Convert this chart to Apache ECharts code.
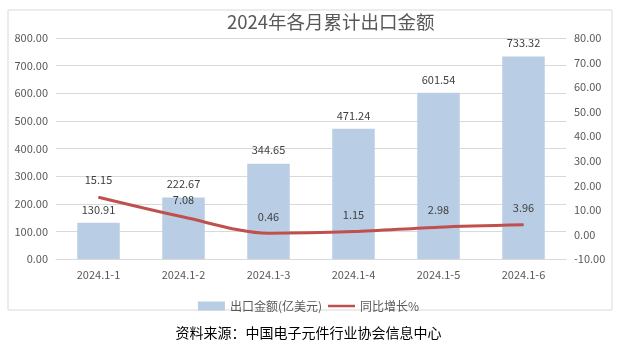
<!DOCTYPE html>
<html><head><meta charset="utf-8">
<script src="https://cdn.jsdelivr.net/npm/echarts@6/dist/echarts.min.js"></script>
<style>html,body{margin:0;padding:0;background:#fff}#c{width:617px;height:349px}</style>
</head><body><div id="c"></div>
<script>
const categories = ['2024.1-1','2024.1-2','2024.1-3','2024.1-4','2024.1-5','2024.1-6'];
const exportValues = [130.91, 222.67, 344.65, 471.24, 601.54, 733.32];
const growthValues = [15.15, 7.08, 0.46, 1.15, 2.98, 3.96];
const seriesNames = ['出口金额(亿美元)', '同比增长%'];
const titleText = '2024年各月累计出口金额';
const sourceText = '资料来源：中国电子元件行业协会信息中心';

const FONT = '"Noto Sans CJK SC", "Noto Sans", sans-serif';
const chart = echarts.init(document.getElementById('c'), null, {renderer: 'canvas'});
chart.setOption({
  animation: false,
  textStyle: {fontFamily: FONT},
  title: {text: titleText, left: 227, top: 13, padding: 0, textStyle: {fontSize: 18.5, fontWeight: 'normal', color: '#595959', fontFamily: FONT}},
  graphic: [
    {type: 'rect', shape: {x: 8, y: 10, width: 604, height: 300}, style: {fill: 'none', stroke: '#D9D9D9', lineWidth: 1}, z: -1},
    {type: 'text', left: 'center', top: 326, style: {text: sourceText, fontSize: 14, fill: '#000', fontFamily: FONT}}
  ],
  legend: {
    top: 295, left: 'center', itemGap: 6, itemWidth: 27, itemHeight: 9,
    textStyle: {color: '#595959', fontSize: 12, fontFamily: FONT},
    data: [{name: seriesNames[0], icon: 'rect'}, {name: seriesNames[1], icon: 'path://M0,3.5 L27,3.5 L27,6 L0,6 Z'}]
  },
  grid: {left: 56, right: 51, top: 38, bottom: 90},
  xAxis: {
    type: 'category', data: categories,
    axisLine: {lineStyle: {color: '#D9D9D9'}}, axisTick: {show: false},
    axisLabel: {color: '#595959', fontSize: 11, margin: 10}
  },
  yAxis: [
    {type: 'value', min: 0, max: 800, interval: 100,
     axisLabel: {color: '#595959', fontSize: 11, formatter: v => v.toFixed(2)},
     splitLine: {lineStyle: {color: '#D9D9D9'}}, axisLine: {show: false}, axisTick: {show: false}},
    {type: 'value', min: -10, max: 80, interval: 10,
     axisLabel: {color: '#595959', fontSize: 11, formatter: v => v.toFixed(2)},
     splitLine: {show: false}, axisLine: {show: false}, axisTick: {show: false}}
  ],
  series: [
    {name: seriesNames[0], type: 'bar', data: exportValues, barWidth: '50%',
     itemStyle: {color: '#B9CDE5'},
     label: {show: true, position: 'top', distance: 8, color: '#404040', fontSize: 11, formatter: p => p.value.toFixed(2)}},
    {name: seriesNames[1], type: 'line', yAxisIndex: 1, data: growthValues, smooth: 0.3,
     symbol: 'circle', symbolSize: 1, showSymbol: true,
     lineStyle: {color: '#C0504D', width: 3}, itemStyle: {color: '#C0504D'},
     label: {show: true, position: 'top', distance: 11, color: '#404040', fontSize: 11, formatter: p => p.value.toFixed(2)}}
  ]
});
</script></body></html>
